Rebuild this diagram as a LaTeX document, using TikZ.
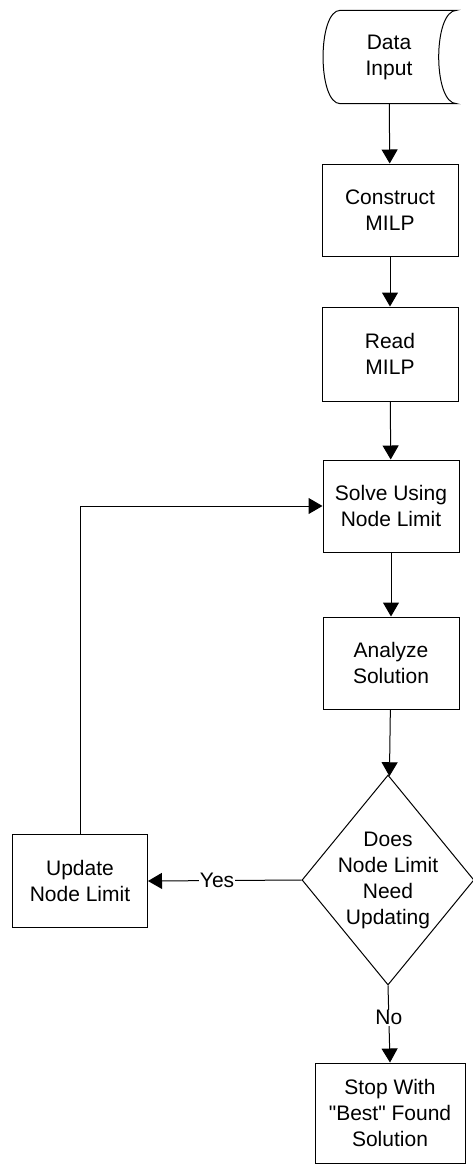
\documentclass[tikz,border=0pt]{standalone}
\usepackage{fontspec}
\setmainfont{Liberation Sans}
\usetikzlibrary{arrows.meta,positioning,shapes.geometric}

\begin{document}
\begin{tikzpicture}[x=1pt,y=-1pt,
txt/.style={font=\fontsize{21}{26}\selectfont,align=center},
box/.style={txt,draw,line width=1pt,minimum width=136pt,minimum height=92pt,inner sep=2pt},
decision/.style={diamond,draw,line width=1pt,minimum width=172pt,minimum height=210pt,inner sep=0pt},
arr/.style={-{Triangle[length=14pt,width=16pt]},line width=1pt},
lbl/.style={txt,fill=white,inner sep=1pt}
]
\useasboundingbox (0,0) rectangle (473,1165);

\node[txt,minimum width=135pt,minimum height=93pt] (input) at (389,57) {Data\\Input};
\draw[line width=1pt] ([xshift=19pt]input.north west) -- (input.north east)
  .. controls ([xshift=-24pt]input.north east) and ([xshift=-24pt]input.south east) .. (input.south east)
  -- ([xshift=19pt]input.south west)
  .. controls ([xshift=-4pt]input.south west) and ([xshift=-4pt]input.north west) .. ([xshift=19pt]input.north west);

\node[box] (construct) at (390,210) {Construct\\MILP};
\node[box,minimum height=94pt] (read) at (390,354) {Read\\MILP};
\node[box] (solve) at (391,506) {Solve Using\\Node Limit};
\node[box] (analyze) at (391,663) {Analyze\\Solution};
\node[decision,label={[txt]center:{Does\\Node Limit\\Need\\Updating}}] (check) at (388,880) {};
\node[box,minimum width=135pt,minimum height=93pt] (update) at (80,881) {Update\\Node Limit};
\node[box,minimum width=150pt,minimum height=100pt] (stop) at (390,1113) {Stop With\\\textquotedbl Best\textquotedbl{} Found\\Solution};

\draw[arr] (input) -- (construct);
\draw[arr] (construct) -- (read);
\draw[arr] (read) -- (solve);
\draw[arr] (solve) -- (analyze);
\draw[arr] (analyze) -- (check);
\draw[arr] (check.west) -- node[lbl,pos=0.55] {Yes} (update.east);
\draw[arr] (update.north) |- (solve.west);
\draw[arr] (check.south) -- node[lbl,pos=0.42] {No} (stop.north);
\end{tikzpicture}
\end{document}
